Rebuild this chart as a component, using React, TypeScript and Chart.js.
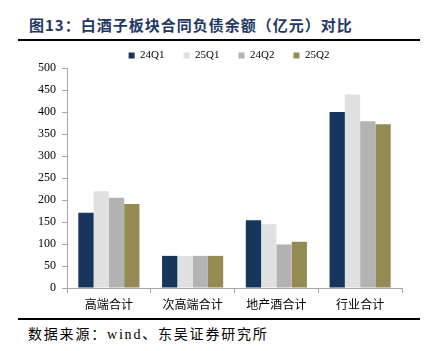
import React, { useEffect, useRef } from "react";
import { Chart, registerables } from "chart.js";

Chart.register(...registerables);

const categories = ["高端合计", "次高端合计", "地产酒合计", "行业合计"];
const seriesNames = ["24Q1", "25Q1", "24Q2", "25Q2"];
const s24Q1 = [171, 73, 154, 400];
const s25Q1 = [220, 73, 145, 440];
const s24Q2 = [205, 73, 99, 379];
const s25Q2 = [191, 73, 105, 372];
const seriesColors = ["#17365D", "#E0E0E0", "#B3B3B3", "#948A54"];
const yTicks = [0, 50, 100, 150, 200, 250, 300, 350, 400, 450, 500];

const CANVAS_TOP = 31;
const CANVAS_H = 284;

export default function App() {
  const ref = useRef<HTMLCanvasElement | null>(null);

  useEffect(() => {
    if (!ref.current) return;
    const legendTweak = {
      id: "legendTweak",
      beforeInit(chart: any) {
        const orig = chart.legend.fit;
        chart.legend.fit = function () {
          orig.call(this);
          this.height = 37;
        };
      },
      afterLayout(chart: any) {
        chart.legend.left += 28;
        chart.legend.right += 28;
      },
    };
    const data = [s24Q1, s25Q1, s24Q2, s25Q2];
    const chart = new Chart(ref.current, {
      type: "bar",
      data: {
        labels: categories,
        datasets: seriesNames.map((n, i) => ({
          label: n,
          data: data[i],
          backgroundColor: seriesColors[i],
          borderWidth: 0,
          categoryPercentage: 0.73,
          barPercentage: 1,
        })),
      },
      options: {
        animation: false,
        responsive: false,
        maintainAspectRatio: false,
        layout: { padding: { left: 0, right: 26, top: 0, bottom: 0 } },
        plugins: {
          legend: {
            display: true,
            position: "top",
            labels: {
              boxWidth: 6,
              boxHeight: 6,
              padding: 19,
              color: "#000",
              font: { family: "'Liberation Serif', serif", size: 11 },
            },
          },
          tooltip: { enabled: false },
          title: { display: false },
        },
        scales: {
          x: {
            afterFit(scale: any) {
              scale.height = 27;
            },
            grid: {
              offset: true,
              drawOnChartArea: false,
              drawTicks: true,
              tickLength: 5,
              color: "#A6A6A6",
            },
            border: { color: "#A6A6A6", width: 1 },
            ticks: {
              color: "#000",
              padding: 4,
              font: { family: "'Noto Sans CJK SC', sans-serif", size: 12 },
            },
          },
          y: {
            min: 0,
            max: 500,
            afterFit(scale: any) {
              scale.width = 67;
            },
            afterBuildTicks(scale: any) {
              scale.ticks = yTicks.map((v) => ({ value: v }));
            },
            grid: {
              drawOnChartArea: false,
              drawTicks: true,
              tickLength: 5,
              color: "#A6A6A6",
            },
            border: { color: "#A6A6A6", width: 1 },
            ticks: {
              color: "#000",
              padding: 6,
              font: { family: "'Liberation Serif', serif", size: 12 },
            },
          },
        },
      },
      plugins: [legendTweak],
    });
    return () => chart.destroy();
  }, []);

  return (
    <div
      style={{
        position: "absolute",
        left: 0,
        top: 0,
        width: 428,
        height: 351,
        background: "#fff",
        overflow: "hidden",
      }}
    >
      <div
        style={{
          position: "absolute",
          left: 29,
          top: 15,
          fontFamily: "'Noto Sans CJK SC', sans-serif",
          fontWeight: 700,
          fontSize: 15,
          lineHeight: "20px",
          letterSpacing: 1,
          color: "#1F3864",
          whiteSpace: "nowrap",
        }}
      >
        图13：白酒子板块合同负债余额（亿元）对比
      </div>
      <div
        style={{
          position: "absolute",
          left: 18,
          top: 39,
          width: 402,
          height: 2,
          background: "#000",
        }}
      />
      <canvas
        ref={ref}
        width={428}
        height={CANVAS_H}
        style={{ position: "absolute", left: 0, top: CANVAS_TOP, width: 428, height: CANVAS_H }}
      />
      <div
        style={{
          position: "absolute",
          left: 18,
          top: 318,
          width: 402,
          height: 2,
          background: "#000",
        }}
      />
      <div
        style={{
          position: "absolute",
          left: 28,
          top: 324,
          fontFamily: "'Noto Sans CJK SC', sans-serif",
          fontSize: 14,
          lineHeight: "18px",
          letterSpacing: 1.8,
          color: "#000",
          whiteSpace: "nowrap",
        }}
      >
        数据来源：<span style={{ fontFamily: "'Liberation Serif', serif", fontSize: 14 }}>wind</span>、东吴证券研究所
      </div>
    </div>
  );
}
